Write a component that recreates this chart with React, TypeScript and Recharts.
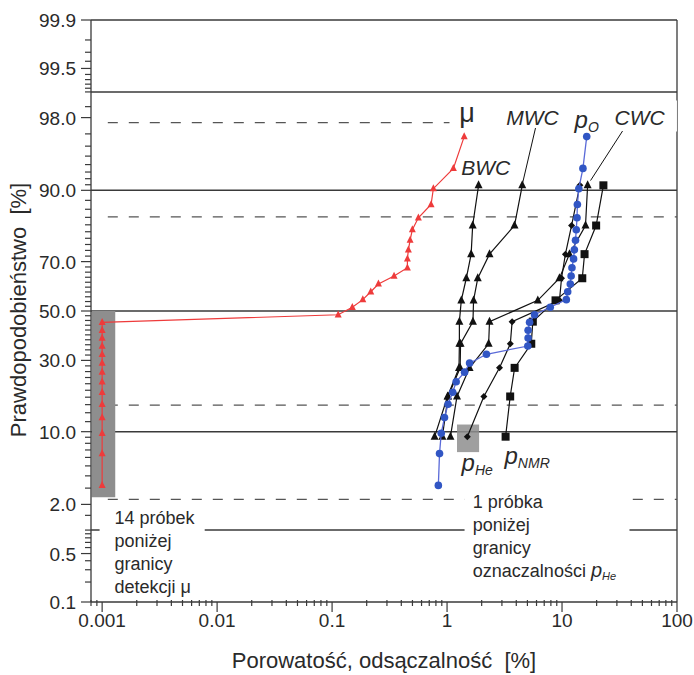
import React from "react";
import {
  ScatterChart,
  Scatter,
  XAxis,
  YAxis,
  ReferenceLine,
  ReferenceArea,
  ReferenceDot,
} from "recharts";

const FONT = "'Liberation Sans', Arial, Helvetica, sans-serif";
const INK = "#2a2a2a";
const GRID = "#3a3a3a";
const RED = "#ee3b3b";
const BLUE = "#3156c4";
const BLUE_LINE = "#5a6ad8";
const BLACK = "#111111";
const SHADE = "#8e8e8e";

// plotting positions [%] for 30 and 10 samples
const POS_30 = [
  3.2, 6.5, 9.7, 12.9, 16.1, 19.4, 22.6, 25.8, 29.0, 32.3, 35.5, 38.7, 41.9, 45.2, 48.4,
  51.6, 54.8, 58.1, 61.3, 64.5, 67.7, 71.0, 74.2, 77.4, 80.6, 83.9, 87.1, 90.3, 93.5, 96.8,
];
const POS_10 = [9.1, 18.2, 27.3, 36.4, 45.5, 54.5, 63.6, 72.7, 81.8, 90.9];

// porosity / permeability values [%], sorted ascending
const MU = [
  0.001, 0.001, 0.001, 0.001, 0.001, 0.001, 0.001, 0.001, 0.001, 0.001, 0.001, 0.001, 0.001, 0.001,
  0.113, 0.15, 0.185, 0.217, 0.253, 0.346, 0.452, 0.452, 0.461, 0.477, 0.499, 0.563, 0.726, 0.76,
  1.135, 1.41,
];
const P_O = [
  0.84, 0.86, 0.89, 0.95, 1.02, 1.12, 1.2, 1.42, 1.57, 2.2, 5.04, 5.07, 5.07, 5.22, 5.77, 7.9,
  10.9, 11.2, 11.8, 12.0, 12.2, 12.6, 12.8, 13.1, 13.3, 13.5, 13.6, 14.0, 15.2, 16.4,
];
const BWC = [0.78, 1.01, 1.27, 1.28, 1.28, 1.33, 1.47, 1.62, 1.67, 1.88];
const MWC = [0.91, 1.02, 1.3, 1.31, 1.68, 1.7, 1.85, 2.34, 3.86, 4.51];
const CWC = [1.07, 1.22, 1.57, 2.3, 2.34, 6.16, 9.5, 11.6, 16.0, 16.7];
const P_HE = [1.5, 2.09, 2.86, 3.55, 3.68, 9.5, 9.9, 10.7, 12.1, 14.3];
const P_NMR = [3.23, 3.54, 3.87, 5.4, 5.57, 8.78, 15.0, 15.7, 19.8, 22.9];

// axis ticks
const X_MAJOR = [0.001, 0.01, 0.1, 1, 10, 100];
const Y_MAJOR = [0.1, 0.5, 2, 10, 30, 50, 70, 90, 98, 99.5, 99.9];
const Y_MINOR = [
  0.2, 0.3, 0.4, 0.6, 0.7, 0.8, 0.9, 1, 1.5, 3, 4, 5, 6, 7, 8, 9, 12, 14, 16, 18, 20, 22, 24, 26,
  28, 32, 34, 36, 38, 40, 42, 44, 46, 48, 52, 54, 56, 58, 60, 62, 64, 66, 68, 72, 74, 76, 78, 80,
  82, 84, 86, 88, 91, 92, 93, 94, 95, 96, 97, 98.5, 99, 99.1, 99.2, 99.3, 99.4, 99.6, 99.7, 99.8,
];
const SOLID_P = [1, 10, 50, 90, 99];
const SIGMA = [-2, -1, 1, 2];

// inverse of the standard normal CDF (Acklam's approximation)
function probit(p: number): number {
  const a = [-39.69683028665376, 220.9460984245205, -275.9285104469687, 138.357751867269, -30.66479806614716, 2.506628277459239];
  const b = [-54.47609879822406, 161.5858368580409, -155.6989798598866, 66.80131188771972, -13.28068155288572];
  const c = [-0.007784894002430293, -0.3223964580411365, -2.400758277161838, -2.549732539343734, 4.374664141464968, 2.938163982698783];
  const d = [0.007784695709041462, 0.3224671290700398, 2.445134137142996, 3.754408661907416];
  const lo = 0.02425;
  if (p < lo) {
    const q = Math.sqrt(-2 * Math.log(p));
    return (((((c[0] * q + c[1]) * q + c[2]) * q + c[3]) * q + c[4]) * q + c[5]) / ((((d[0] * q + d[1]) * q + d[2]) * q + d[3]) * q + 1);
  }
  if (p <= 1 - lo) {
    const q = p - 0.5;
    const r = q * q;
    return ((((((a[0] * r + a[1]) * r + a[2]) * r + a[3]) * r + a[4]) * r + a[5]) * q) / (((((b[0] * r + b[1]) * r + b[2]) * r + b[3]) * r + b[4]) * r + 1);
  }
  const q = Math.sqrt(-2 * Math.log(1 - p));
  return -(((((c[0] * q + c[1]) * q + c[2]) * q + c[3]) * q + c[4]) * q + c[5]) / ((((d[0] * q + d[1]) * q + d[2]) * q + d[3]) * q + 1);
}
const Z = (pct: number) => probit(pct / 100);

const pts = (xs: number[], ps: number[]) => xs.map((x, i) => ({ x, z: Z(ps[i]) }));

const muData = pts(MU, POS_30);
const poData = pts(P_O, POS_30);
const bwcData = pts(BWC, POS_10);
const mwcData = pts(MWC, POS_10);
const cwcData = pts(CWC, POS_10);
const pheData = pts(P_HE, POS_10);
const pnmrData = pts(P_NMR, POS_10);

const X_MINOR: number[] = [0.0008, 0.0009];
[0.001, 0.01, 0.1, 1, 10].forEach((d) => {
  for (let m = 2; m <= 9; m++) X_MINOR.push(+(d * m).toPrecision(2));
});
const Y_MAJOR_Z = Y_MAJOR.map(Z);
const Y_TICKS = [...Y_MAJOR, ...Y_MINOR].map(Z);
const Z_MIN = Z(0.1);
const Z_MAX = Z(99.9);

// layering: grid lines < shaded / blank boxes < leader lines < series
const Z_GRID = 100;
const Z_BOX = 300;
const Z_LEADER = 350;

const YTick = (props: any) => {
  const { x, y, payload } = props;
  const i = Y_MAJOR_Z.findIndex((v) => Math.abs(v - payload.value) < 1e-9);
  const len = i >= 0 ? 10 : 6;
  return (
    <g>
      <line x1={x - len} x2={x} y1={y} y2={y} stroke={GRID} strokeWidth={1.2} />
      {i >= 0 && (
        <text x={x - 15} y={y} dy={7} textAnchor="end" fontSize={19} fontFamily={FONT} fill={INK}>
          {Y_MAJOR[i].toFixed(1)}
        </text>
      )}
    </g>
  );
};

const XTick = (props: any) => {
  const { x, y, payload } = props;
  const major = X_MAJOR.some((v) => Math.abs(Math.log10(v) - Math.log10(payload.value)) < 1e-6);
  return (
    <g>
      <line x1={x} x2={x} y1={major ? y : y - 2} y2={major ? y + 10 : y + 4} stroke={GRID} strokeWidth={1.2} />
      {major && (
        <text x={x} y={y + 25} textAnchor="middle" fontSize={19} fontFamily={FONT} fill={INK}>
          {String(payload.value)}
        </text>
      )}
    </g>
  );
};

// marker shapes
const tri = (s: number, fill: string) => (p: any) =>
  p.cx == null ? <g /> : (
    <polygon
      points={`${p.cx},${p.cy - s * 0.62} ${p.cx - s / 2},${p.cy + s * 0.38} ${p.cx + s / 2},${p.cy + s * 0.38}`}
      fill={fill}
    />
  );
const square = (s: number) => (p: any) =>
  p.cx == null ? <g /> : <rect x={p.cx - s / 2} y={p.cy - s / 2} width={s} height={s} fill={BLACK} />;
const diamond = (s: number) => (p: any) =>
  p.cx == null ? <g /> : (
    <polygon points={`${p.cx},${p.cy - s / 2} ${p.cx + s / 2},${p.cy} ${p.cx},${p.cy + s / 2} ${p.cx - s / 2},${p.cy}`} fill={BLACK} />
  );
const circle = (r: number) => (p: any) =>
  p.cx == null ? <g /> : <circle cx={p.cx} cy={p.cy} r={r} fill={BLUE} />;

// text placed at a data point (x in %, y as probability in %)
const textAt = (
  key: string,
  x: number,
  pct: number,
  body: (cx: number) => React.ReactNode,
  extra: any = {}
) => (
  <ReferenceDot
    key={key}
    x={x}
    y={Z(pct)}
    r={0}
    ifOverflow="visible"
    zIndex={2000}
    shape={(p: any) => (
      <text x={p.cx} y={p.cy} fontFamily={FONT} fill={INK} style={{ whiteSpace: "pre" }} {...extra}>
        {body(p.cx)}
      </text>
    )}
  />
);

const stacked = (rows: React.ReactNode[], gap: number) => (cx: number) =>
  rows.map((r, i) => (
    <tspan key={i} x={cx} dy={i === 0 ? 0 : gap}>
      {r}
    </tspan>
  ));

const sub = (main: string, idx: string) => () => (
  <>
    <tspan fontSize={24}>{main}</tspan>
    <tspan fontSize={14} dy={4}>
      {idx}
    </tspan>
  </>
);

const whiteBox = (key: string, x1: number, x2: number, p1: number, p2: number) => (
  <ReferenceArea
    key={key}
    x1={x1}
    x2={x2}
    y1={p1 <= 0.1 ? Z_MIN : Z(p1)}
    y2={Z(p2)}
    fill="#ffffff"
    fillOpacity={1}
    stroke="none"
    ifOverflow="hidden"
    zIndex={Z_BOX}
  />
);

export default function App() {
  return (
    <div style={{ position: "absolute", left: 0, top: 0, width: 694, height: 675, background: "#fff" }}>
      <ScatterChart width={694} height={675} margin={{ top: 20, right: 17, left: 0, bottom: 0 }}>
        <XAxis
          type="number"
          dataKey="x"
          scale="log"
          domain={[0.0008, 100]}
          allowDataOverflow
          ticks={[...X_MAJOR, ...X_MINOR]}
          interval={0}
          height={73}
          tickSize={0}
          tickMargin={0}
          tick={<XTick />}
          axisLine={{ stroke: GRID, strokeWidth: 1.3 }}
          tickLine={false}
        />
        <YAxis
          type="number"
          dataKey="z"
          domain={[Z_MIN, Z_MAX]}
          allowDataOverflow
          ticks={Y_TICKS}
          interval={0}
          width={91}
          tickSize={0}
          tickMargin={0}
          tick={<YTick />}
          axisLine={{ stroke: GRID, strokeWidth: 1.3 }}
          tickLine={false}
        />

        {/* frame: top and right edges */}
        <ReferenceLine y={Z_MAX} stroke={GRID} strokeWidth={1.3} ifOverflow="visible" zIndex={Z_GRID} />
        <ReferenceLine x={100} stroke={GRID} strokeWidth={1.3} ifOverflow="visible" zIndex={Z_GRID} />

        {SOLID_P.map((p) => (
          <ReferenceLine key={`s${p}`} y={Z(p)} stroke={GRID} strokeWidth={1.4} zIndex={Z_GRID} />
        ))}
        {SIGMA.map((s) => (
          <ReferenceLine
            key={`d${s}`}
            segment={[
              { x: 0.00112, y: s },
              { x: 99.99, y: s },
            ]}
            stroke="#555"
            strokeWidth={1.3}
            strokeDasharray="10 11"
            zIndex={Z_GRID}
          />
        ))}

        {/* samples below the detection / quantification limit */}
        <ReferenceArea x1={0.00081} x2={0.0013} y1={Z(2.4)} y2={0} fill={SHADE} fillOpacity={1} stroke="none" zIndex={Z_BOX} />
        <ReferenceArea x1={1.22} x2={1.9} y1={Z(6.7)} y2={Z(11.4)} fill={SHADE} fillOpacity={0.85} stroke="none" zIndex={Z_BOX} />

        {/* blank backgrounds behind the notes */}
        {whiteBox("w1", 0.00095, 0.0078, 0.1, 2.1)}
        {whiteBox("w2", 1.42, 38.6, 0.1, 2.83)}
        {whiteBox("w3", 1.05, 99.9, 97.17, 98.73)}

        {/* leader lines for MWC and CWC */}
        <ReferenceLine segment={[{ x: 5.88, y: Z(97.4) }, { x: 4.53, y: Z(91.2) }]} stroke={BLACK} strokeWidth={1} zIndex={Z_LEADER} />
        <ReferenceLine segment={[{ x: 33.6, y: Z(97.2) }, { x: 17.7, y: Z(91.7) }]} stroke={BLACK} strokeWidth={1} zIndex={Z_LEADER} />

        <Scatter name="μ" data={muData} line={{ stroke: RED, strokeWidth: 1.2 }} lineType="joint" shape={tri(7, RED)} isAnimationActive={false} />
        <Scatter name="BWC" data={bwcData} line={{ stroke: BLACK, strokeWidth: 1.2 }} lineType="joint" shape={tri(8, BLACK)} isAnimationActive={false} />
        <Scatter name="MWC" data={mwcData} line={{ stroke: BLACK, strokeWidth: 1.2 }} lineType="joint" shape={tri(8, BLACK)} isAnimationActive={false} />
        <Scatter name="CWC" data={cwcData} line={{ stroke: BLACK, strokeWidth: 1.2 }} lineType="joint" shape={tri(8, BLACK)} isAnimationActive={false} />
        <Scatter name="pHe" data={pheData} line={{ stroke: BLACK, strokeWidth: 1.2 }} lineType="joint" shape={diamond(7)} isAnimationActive={false} />
        <Scatter name="pNMR" data={pnmrData} line={{ stroke: BLACK, strokeWidth: 1.2 }} lineType="joint" shape={square(8)} isAnimationActive={false} />
        <Scatter name="pO" data={poData} line={{ stroke: BLUE_LINE, strokeWidth: 1.3 }} lineType="joint" shape={circle(3.8)} isAnimationActive={false} />

        {/* series labels */}
        {textAt("mu", 1.49, 97.75, () => "μ", { fontSize: 27, textAnchor: "middle" })}
        {textAt("bwc", 1.33, 92.5, () => "BWC", { fontSize: 21, fontStyle: "italic" })}
        {textAt("mwc", 3.27, 97.56, () => "MWC", { fontSize: 21, fontStyle: "italic" })}
        {textAt("cwc", 28.6, 97.56, () => "CWC", { fontSize: 21, fontStyle: "italic" })}
        {textAt("po", 12.85, 97.4, sub("p", "O"), { fontStyle: "italic" })}
        {textAt("phe", 1.337, 4.42, sub("p", "He"), { fontStyle: "italic" })}
        {textAt("pnmr", 3.16, 5.16, sub("p", "NMR"), { fontStyle: "italic" })}

        {/* notes */}
        {textAt("n14", 0.00128, 1.17, stacked(["14 próbek", "poniżej", "granicy", "detekcji μ"], 22.7), { fontSize: 18 })}
        {textAt(
          "n1",
          1.676,
          1.8,
          stacked(
            [
              "1 próbka",
              "poniżej",
              "granicy",
              <>
                {"oznaczalności "}
                <tspan fontStyle="italic" fontSize={20}>p</tspan>
                <tspan fontStyle="italic" fontSize={11} dy={3}>He</tspan>
              </>,
            ],
            22.7
          ),
          { fontSize: 18 }
        )}
      </ScatterChart>
      <svg width={694} height={675} style={{ position: "absolute", left: 0, top: 0, pointerEvents: "none" }}>
        <text x={384} y={668} textAnchor="middle" fontSize={22} fontFamily={FONT} fill={INK} style={{ whiteSpace: "pre" }}>
          {"Porowatość, odsączalność  [%]"}
        </text>
        <text
          transform="translate(26 310) rotate(-90)"
          textAnchor="middle"
          fontSize={22}
          fontFamily={FONT}
          fill={INK}
          style={{ whiteSpace: "pre" }}
        >
          {"Prawdopodobieństwo  [%]"}
        </text>
      </svg>
    </div>
  );
}
